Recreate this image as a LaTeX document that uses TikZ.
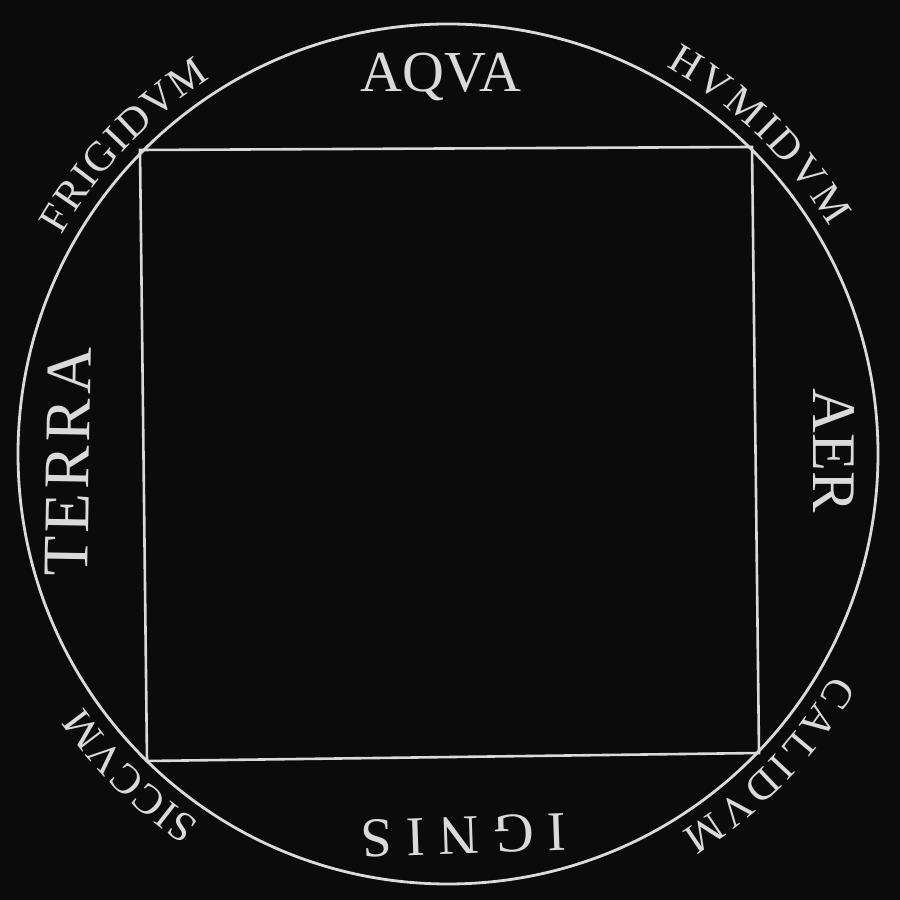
\documentclass[tikz,border=0pt]{standalone}
\usepackage{fontspec}
\setmainfont{Liberation Serif}
\usetikzlibrary{decorations.text,calc}
\definecolor{bg}{HTML}{0B0B0B}
\definecolor{ink}{HTML}{DADADA}
\tikzset{
  outline/.style={draw=ink, line width=2.6pt},
  element/.style={text=ink, inner sep=0pt},
  quality/.style={decorate, decoration={text along path, text color=ink,
      text align={fit to path}, text={|\fontsize{42}{44}\selectfont|#1}}},
}
\begin{document}
\begin{tikzpicture}[x=1pt,y=1pt]
\fill[bg] (0,0) rectangle (900,900);
\useasboundingbox (0,0) rectangle (900,900);
\coordinate (O) at (448,446);
\node[draw=ink, line width=2.8pt, circle, minimum size=860pt, inner sep=0pt] (ring) at (O) {};
% square
\coordinate (tl) at (140,750);
\coordinate (tr) at (752,753);
\coordinate (br) at (759,147);
\coordinate (bl) at (147,139);
\draw[outline] (tl) -- (tr) -- (br) -- (bl) -- cycle;
% elements
\node[element, anchor=base, font=\fontsize{58}{60}\selectfont] (aqva) at (441,808) {AQVA};
\node[element, rotate=-90, font=\fontsize{62}{64}\selectfont] (aer) at (834,449) {AER};
\node[element, rotate=182, font=\fontsize{56}{60}\selectfont] (ignis) at (464,65) {I\kern14pt G\kern14pt N\kern14pt I\kern14pt S};
\node[element, rotate=89, font=\fontsize{65}{67}\selectfont] (terra) at (68,438) {T\kern4pt E\kern4pt R\kern4pt R\kern4pt A};
% qualities
\path[quality=FRIGIDVM] ($(O)+(150.5:444)$) arc[start angle=150.5, end angle=122.3, radius=444pt];
\path[quality=HVMIDVM] ($(O)+(60.6:444)$) arc[start angle=60.6, end angle=30.8, radius=444pt];
\path[quality=CALIDVM] ($(O)+(-29.7:444)$) arc[start angle=-29.7, end angle=-58.3, radius=444pt];
\path[quality=SICCVM] ($(O)+(236:444)$) arc[start angle=236, end angle=214.7, radius=444pt];
\end{tikzpicture}
\end{document}
